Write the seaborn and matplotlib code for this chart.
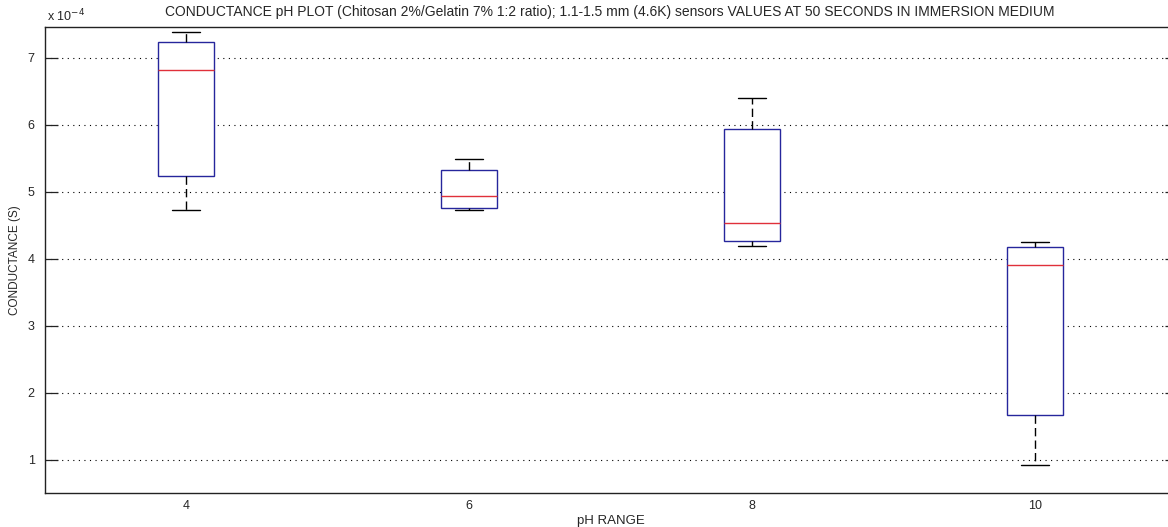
import numpy as np
import pandas as pd
import matplotlib
matplotlib.use("Agg")
import matplotlib.pyplot as plt
from matplotlib.ticker import FuncFormatter
import seaborn as sns

# Conductance (S) readings per pH group: five-number summaries of the sensor readings
ph_labels = ["4", "6", "8", "10"]
cond_ph4 = [4.72e-4, 5.24e-4, 6.82e-4, 7.24e-4, 7.39e-4]
cond_ph6 = [4.72e-4, 4.76e-4, 4.93e-4, 5.33e-4, 5.49e-4]
cond_ph8 = [4.19e-4, 4.27e-4, 4.53e-4, 5.94e-4, 6.40e-4]
cond_ph10 = [0.925e-4, 1.67e-4, 3.91e-4, 4.18e-4, 4.25e-4]
y_ticks = [1e-4, 2e-4, 3e-4, 4e-4, 5e-4, 6e-4, 7e-4]

df = pd.DataFrame({
    "pH": np.repeat(ph_labels, 5),
    "conductance": cond_ph4 + cond_ph6 + cond_ph8 + cond_ph10,
})

sns.set_style("white")
plt.rcParams["font.family"] = ["Liberation Sans", "DejaVu Sans"]

W, H = 1168, 527
fig = plt.figure(figsize=(W / 100, H / 100), dpi=100)
ax = fig.add_axes([44.5 / W, 34 / H, 1132 / W, 466 / H])

box_blue = "#26269c"
sns.boxplot(
    data=df, x="pH", y="conductance", order=ph_labels, ax=ax,
    width=0.2, whis=(0, 100), color="white", linecolor=box_blue,
    linewidth=1.0, fliersize=0,
    boxprops=dict(edgecolor=box_blue, facecolor="white", linewidth=1.0),
    medianprops=dict(color="#e0303a", linewidth=1.0),
    whiskerprops=dict(color="black", linestyle=(0, (6, 3)), linewidth=1.0),
    capprops=dict(color="black", linewidth=1.0),
)

ax.set_xlim(-0.5, 3.5)
ax.set_ylim(0.5e-4, 7.46e-4)
ax.set_yticks(y_ticks)
ax.yaxis.set_major_formatter(FuncFormatter(lambda v, _: f"{v / 1e-4:g}"))

ax.yaxis.grid(True, color="black", linestyle=(0, (1, 4)), linewidth=0.8)
ax.xaxis.grid(False)
ax.set_axisbelow(True)

for s in ax.spines.values():
    s.set_visible(True)
    s.set_color("#222222")
    s.set_linewidth(1.0)

ax.tick_params(axis="y", direction="in", length=9, width=0.9, color="#222222",
               labelsize=9, pad=7, left=True, right=True, labelright=False)
ax.tick_params(axis="x", length=0, labelsize=9, pad=5)

ax.set_xlabel("pH RANGE", fontsize=9.5, labelpad=2)
ax.set_ylabel("CONDUCTANCE (S)", fontsize=8.5, va="center")
ax.yaxis.set_label_coords((15 - 44.5) / 1132, 0.5)

fig.text(610 / W, 1 - 12 / H,
         "CONDUCTANCE pH PLOT (Chitosan 2%/Gelatin 7% 1:2 ratio); 1.1-1.5 mm (4.6K) "
         "sensors VALUES AT 50 SECONDS IN IMMERSION MEDIUM",
         fontsize=10, ha="center", va="center")

fig.text(47 / W, 1 - 16 / H, r"x 10$^{-4}$", fontsize=9, va="center", ha="left")

fig.savefig("out.png", dpi=100)
